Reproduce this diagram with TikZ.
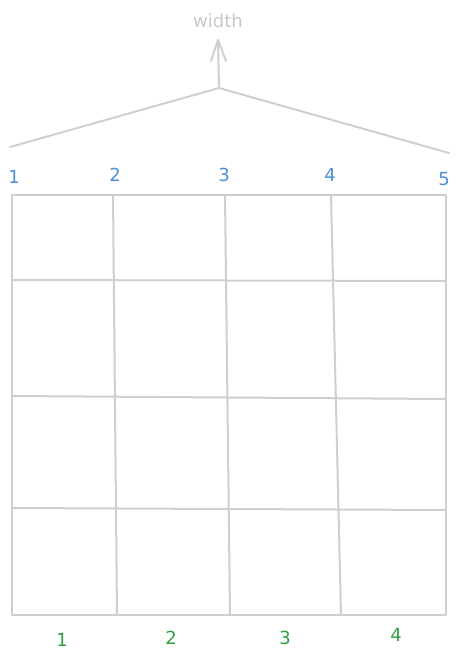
\documentclass[tikz,border=0pt]{standalone}
\usepackage{fontspec}
\setmainfont{DejaVu Sans}
\usetikzlibrary{arrows.meta}
\definecolor{gridgray}{HTML}{CFCFCF}
\definecolor{labblue}{HTML}{4A90D9}
\definecolor{labgreen}{HTML}{2F9E44}
\definecolor{txtgray}{HTML}{C8C8C8}
\begin{document}
\begin{tikzpicture}[x=1pt,y=-1pt,
  gridline/.style={draw=gridgray,line width=2pt,line cap=round,line join=round},
  bluelab/.style={text=labblue,font=\fontsize{18}{18}\selectfont,inner sep=0pt},
  greenlab/.style={text=labgreen,font=\fontsize{18}{18}\selectfont,inner sep=0pt}]
\useasboundingbox (0,0) rectangle (460,664);
% roof and arrow
\coordinate (apex) at (219,88);
\coordinate (rl) at (10,147);
\coordinate (rr) at (449,153);
\coordinate (tip) at (218,40);
\draw[gridline] (rl) -- (apex) -- (rr);
\draw[gridline] (apex) -- (tip);
\draw[gridline] (211,61) -- (tip) -- (226,61);
\node[text=txtgray,font=\fontsize{18}{18}\selectfont,inner sep=0pt] (w) at (218,21) {width};
% grid outer
\draw[gridline] (12,195) -- (446,195) -- (446,615) -- (12,615) -- cycle;
% verticals
\draw[gridline] (113,195) -- (117,615);
\draw[gridline] (225,195) -- (230,615);
\draw[gridline] (331,195) -- (341,615);
% horizontals
\draw[gridline] (12,280) -- (446,281);
\draw[gridline] (12,396) -- (446,399);
\draw[gridline] (12,508) -- (446,510);
% blue labels
\node[bluelab] (b1) at (14,177) {1};
\node[bluelab] (b2) at (115,175) {2};
\node[bluelab] (b3) at (224,175) {3};
\node[bluelab] (b4) at (330,175) {4};
\node[bluelab] (b5) at (444,179) {5};
% green labels
\node[greenlab] (g1) at (62,640) {1};
\node[greenlab] (g2) at (171,638) {2};
\node[greenlab] (g3) at (285,638) {3};
\node[greenlab] (g4) at (396,635) {4};
\end{tikzpicture}
\end{document}
